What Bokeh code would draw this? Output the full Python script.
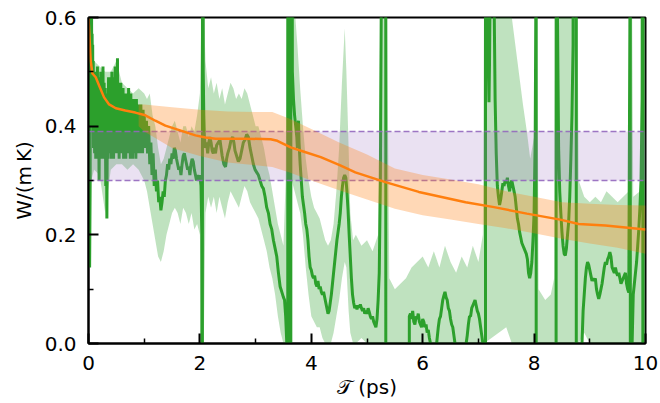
from bokeh.plotting import figure
from bokeh.models import Range1d, FixedTicker
from bokeh.embed import file_html
from bokeh.resources import INLINE

# ---------------- data ----------------
# green: running estimate (with poles, values beyond the axis are clipped)
green_x = [0.000, 0.010, 0.020, 0.030, 0.035, 0.040, 0.045, 0.050, 0.055, 0.060, 0.065, 0.070, 0.075, 0.080, 0.085, 0.090,
           0.10, 0.11, 0.12, 0.13, 0.14, 0.15, 0.16, 0.17, 0.18, 0.19, 0.20, 0.21, 0.22, 0.23, 0.24, 0.25, 0.26, 0.27, 0.28, 0.29,
           0.30, 0.31, 0.32, 0.33, 0.34, 0.35, 0.36, 0.37, 0.38, 0.39, 0.40, 0.41, 0.42, 0.43, 0.44, 0.45, 0.46, 0.47, 0.48, 0.49,
           0.50, 0.51, 0.52, 0.53, 0.54, 0.55, 0.56, 0.57, 0.58, 0.59, 0.60, 0.61, 0.62, 0.63, 0.64, 0.65, 0.66, 0.67, 0.68, 0.69,
           0.70, 0.71, 0.72, 0.73, 0.74, 0.75, 0.76, 0.77, 0.78, 0.79, 0.80, 0.81, 0.82, 0.83, 0.84, 0.85, 0.86, 0.87, 0.88, 0.89,
           0.90, 0.91, 0.92, 0.93, 0.94, 0.95, 0.96, 0.97, 0.98, 0.99, 1.00,
           1.02, 1.04, 1.06, 1.08, 1.10, 1.12, 1.14, 1.16, 1.18, 1.20, 1.22, 1.24, 1.26, 1.28, 1.30, 1.32, 1.34, 1.36, 1.38, 1.40,
           1.42, 1.44, 1.46, 1.48, 1.50, 1.52, 1.54, 1.56, 1.58, 1.60, 1.62, 1.64, 1.66, 1.68, 1.70, 1.72, 1.74, 1.76, 1.78, 1.80,
           1.82, 1.84, 1.86, 1.88, 1.90, 1.92, 1.94, 1.96, 1.98, 2.00, 2.02, 2.035, 2.04, 2.05, 2.06, 2.07,
           2.08, 2.10, 2.12, 2.14, 2.16, 2.18, 2.20, 2.22, 2.24, 2.26, 2.28, 2.30, 2.33, 2.36, 2.38, 2.40, 2.43, 2.46, 2.48, 2.50,
           2.53, 2.56, 2.59, 2.61, 2.63, 2.66, 2.69, 2.72, 2.75, 2.78, 2.81, 2.84, 2.87, 2.90, 2.93, 2.96, 2.99, 3.02, 3.05, 3.08,
           3.11, 3.14, 3.17, 3.20, 3.23, 3.26, 3.29, 3.32, 3.35, 3.38, 3.41, 3.44, 3.47, 3.50, 3.52, 3.54, 3.56, 3.575, 3.58, 3.62,
           3.625, 3.63, 3.635, 3.66, 3.68, 3.70, 3.72, 3.74, 3.75, 3.76, 3.77, 3.78, 3.80, 3.82, 3.84, 3.86, 3.88, 3.90, 3.92, 3.94,
           3.96, 3.98, 4.00, 4.02, 4.04, 4.06, 4.08, 4.10, 4.12, 4.14, 4.16, 4.18, 4.20, 4.22, 4.24, 4.26, 4.28, 4.30, 4.32, 4.34,
           4.36, 4.38, 4.40, 4.42, 4.44, 4.46, 4.48, 4.50, 4.52, 4.54, 4.56, 4.58, 4.60, 4.62, 4.64, 4.66, 4.68, 4.70, 4.72, 4.74,
           4.76, 4.78, 4.80, 4.82, 4.84, 4.86, 4.88, 4.90, 4.92, 4.94, 4.96, 4.98, 5.00, 5.02, 5.04, 5.06, 5.08, 5.10, 5.12, 5.14,
           5.16, 5.18, 5.20, 5.22, 5.24, 5.255, 5.26, 5.335, 5.34, 5.755, 5.76, 5.78, 5.80, 5.82, 5.84, 5.86, 5.88, 5.90, 5.92, 5.94,
           5.96, 5.98, 6.00, 6.02, 6.04, 6.06, 6.08, 6.10, 6.12, 6.14, 6.16, 6.22, 6.25, 6.28, 6.30, 6.32, 6.34, 6.36, 6.38, 6.40,
           6.42, 6.44, 6.46, 6.48, 6.50, 6.52, 6.54, 6.56, 6.58, 6.60, 6.76, 6.78, 6.80, 6.82, 6.84, 6.86, 6.88, 6.90, 6.92, 6.94,
           6.96, 6.98, 7.00, 7.02, 7.04, 7.06, 7.08, 7.10, 7.125, 7.13, 7.16, 7.17, 7.18, 7.19, 7.20, 7.21, 7.22, 7.27, 7.28, 7.30,
           7.32, 7.34, 7.36, 7.38, 7.40, 7.42, 7.44, 7.46, 7.48, 7.50, 7.52, 7.54, 7.56, 7.58, 7.60, 7.62, 7.64, 7.66, 7.68, 7.70,
           7.72, 7.74, 7.76, 7.78, 7.80, 7.82, 7.84, 7.86, 7.88, 7.90, 7.92, 7.94, 7.96, 7.98, 8.00, 8.02, 8.03, 8.035, 8.04, 8.39,
           8.40, 8.415, 8.42, 8.44, 8.46, 8.48, 8.50, 8.52, 8.54, 8.56, 8.58, 8.60, 8.62, 8.64, 8.66, 8.68, 8.70, 8.71, 8.755, 8.76,
           8.85, 8.86, 8.88, 8.90, 8.92, 8.94, 8.96, 8.98, 9.00, 9.02, 9.04, 9.06, 9.08, 9.10, 9.12, 9.14, 9.16, 9.18, 9.20, 9.22,
           9.24, 9.26, 9.28, 9.30, 9.32, 9.34, 9.36, 9.38, 9.40, 9.42, 9.44, 9.46, 9.48, 9.50, 9.52, 9.54, 9.56, 9.58, 9.60, 9.62,
           9.64, 9.66, 9.68, 9.70, 9.72, 9.725, 9.73, 9.76, 9.78, 9.80, 9.82, 9.84, 9.86, 9.88, 9.90, 9.92, 9.94, 9.95, 9.955, 10.0]
green_y = [0.62, 0.35, 0.14, 0.30, 0.58, 0.45, 0.62, 0.50, 0.61, 0.42, 0.57, 0.46, 0.55, 0.40, 0.52, 0.36,
           0.48, 0.35, 0.50, 0.34, 0.49, 0.36, 0.51, 0.34, 0.49, 0.30, 0.48, 0.35, 0.50, 0.34, 0.49, 0.36, 0.51, 0.34, 0.48, 0.35,
           0.47, 0.29, 0.46, 0.23, 0.45, 0.34, 0.49, 0.35, 0.49, 0.36, 0.48, 0.34, 0.50, 0.35, 0.48, 0.34, 0.49, 0.36, 0.51, 0.35,
           0.49, 0.36, 0.525, 0.35, 0.48, 0.34, 0.47, 0.36, 0.48, 0.35, 0.47, 0.36, 0.47, 0.34, 0.46, 0.36, 0.46, 0.34, 0.46, 0.35,
           0.46, 0.35, 0.47, 0.36, 0.45, 0.34, 0.46, 0.35, 0.45, 0.34, 0.45, 0.35, 0.45, 0.36, 0.44, 0.34, 0.45, 0.35, 0.44, 0.35,
           0.44, 0.36, 0.44, 0.35, 0.44, 0.36, 0.43, 0.35, 0.43, 0.37, 0.42,
           0.36, 0.41, 0.35, 0.40, 0.33, 0.37, 0.31, 0.35, 0.29, 0.32, 0.28, 0.30, 0.26, 0.27, 0.245, 0.26, 0.28, 0.27, 0.30, 0.31,
           0.33, 0.32, 0.34, 0.33, 0.35, 0.34, 0.36, 0.355, 0.34, 0.33, 0.32, 0.325, 0.31, 0.33, 0.345, 0.35, 0.34, 0.33, 0.32, 0.325,
           0.31, 0.33, 0.34, 0.335, 0.32, 0.31, 0.30, 0.31, 0.30, 0.31, 0.29, 0.20, -3.0, 3.0, 0.50, 0.42,
           0.38, 0.36, 0.37, 0.35, 0.37, 0.38, 0.37, 0.355, 0.35, 0.36, 0.35, 0.365, 0.37, 0.375, 0.36, 0.345, 0.33, 0.325, 0.34, 0.35,
           0.36, 0.375, 0.38, 0.37, 0.355, 0.345, 0.335, 0.34, 0.355, 0.37, 0.375, 0.385, 0.38, 0.36, 0.345, 0.33, 0.32, 0.315, 0.31, 0.30,
           0.29, 0.285, 0.27, 0.25, 0.24, 0.22, 0.21, 0.19, 0.175, 0.16, 0.13, 0.105, 0.095, 0.085, 0.08, 0.05, 0.0, -3.0, 3.0, 3.0,
           -3.0, -3.0, 3.0, 0.50, 0.45, 0.42, 0.40, 0.38, 0.36, 0.40, 0.41, 0.37, 0.33, 0.30, 0.27, 0.255, 0.24, 0.22, 0.21, 0.19,
           0.16, 0.14, 0.135, 0.125, 0.12, 0.125, 0.11, 0.105, 0.115, 0.10, 0.105, 0.095, 0.09, 0.095, 0.085, 0.075, 0.065, 0.055, 0.06, 0.075,
           0.09, 0.11, 0.13, 0.15, 0.17, 0.19, 0.205, 0.22, 0.24, 0.27, 0.29, 0.305, 0.31, 0.305, 0.28, 0.245, 0.20, 0.16, 0.12, 0.09,
           0.075, 0.065, 0.07, 0.063, 0.07, 0.066, 0.072, 0.065, 0.06, 0.065, 0.055, 0.06, 0.055, 0.065, 0.058, 0.05, 0.045, 0.05, 0.04, 0.035,
           0.03, 0.045, 0.08, 0.13, 0.30, 0.60, 3.0, 3.0, -3.0, -3.0, 0.05, 0.055, 0.045, 0.06, 0.04, 0.035, 0.05, 0.045, 0.055, 0.04,
           0.035, 0.03, 0.045, 0.04, 0.03, 0.035, 0.02, 0.025, 0.01, 0.0, -0.03, -0.03, 0.0, 0.03, 0.045, 0.05, 0.065, 0.08, 0.088, 0.095,
           0.085, 0.08, 0.065, 0.06, 0.045, 0.035, 0.03, 0.015, 0.0, -0.03, -0.03, 0.0, 0.015, 0.035, 0.05, 0.05, 0.065, 0.07, 0.075, 0.08,
           0.07, 0.06, 0.055, 0.045, 0.03, 0.015, 0.0, -0.05, -3.0, 3.0, 3.0, 0.60, 0.50, 0.444, 0.52, 0.65, 3.0, 3.0, 0.65, 0.45,
           0.35, 0.29, 0.27, 0.255, 0.265, 0.28, 0.295, 0.29, 0.30, 0.295, 0.305, 0.29, 0.28, 0.295, 0.30, 0.29, 0.28, 0.27, 0.25, 0.23,
           0.22, 0.205, 0.195, 0.185, 0.18, 0.175, 0.17, 0.165, 0.155, 0.13, 0.12, 0.13, 0.15, 0.19, 0.24, 0.38, 0.60, 3.0, -3.0, -3.0,
           3.0, 3.0, 0.60, 0.36, 0.28, 0.24, 0.205, 0.18, 0.165, 0.162, 0.175, 0.20, 0.223, 0.27, 0.34, 0.42, 0.55, 3.0, 3.0, -3.0,
           -3.0, 0.0, 0.06, 0.09, 0.12, 0.14, 0.15, 0.145, 0.135, 0.125, 0.115, 0.12, 0.115, 0.12, 0.10, 0.09, 0.082, 0.09, 0.10, 0.11,
           0.125, 0.14, 0.15, 0.145, 0.155, 0.16, 0.168, 0.16, 0.14, 0.135, 0.13, 0.14, 0.13, 0.125, 0.13, 0.12, 0.11, 0.115, 0.12, 0.125,
           0.13, 0.11, 0.10, 0.094, 0.60, 3.0, -3.0, 0.0, 0.09, 0.11, 0.13, 0.15, 0.18, 0.21, 0.25, 0.30, 0.45, 3.0, -3.0, -3.0]

# green uncertainty band
gband_x = [0.00, 0.05, 0.10, 0.20, 0.30, 0.40, 0.50, 0.60, 0.70, 0.80, 0.90, 1.00, 1.05, 1.10, 1.15, 1.20, 1.25, 1.30, 1.35, 1.40,
           1.45, 1.50, 1.55, 1.60, 1.65, 1.70, 1.75, 1.80, 1.85, 1.90, 1.95, 2.00, 2.03, 2.07, 2.10, 2.15, 2.20, 2.25, 2.30, 2.35,
           2.40, 2.45, 2.50, 2.55, 2.60, 2.65, 2.70, 2.75, 2.80, 2.85, 2.90, 2.95, 3.00, 3.05, 3.10, 3.15, 3.20, 3.25, 3.30, 3.35,
           3.40, 3.45, 3.50, 3.54, 3.56, 3.60, 3.65, 3.70, 3.75, 3.80, 3.85, 3.90, 3.95, 4.00, 4.05, 4.10, 4.15, 4.20, 4.25, 4.30,
           4.35, 4.40, 4.45, 4.50, 4.55, 4.60, 4.63, 4.67, 4.70, 4.75, 4.80, 4.90, 5.00, 5.10, 5.20, 5.24, 5.36, 5.40, 5.50, 5.60,
           5.70, 5.80, 5.90, 6.00, 6.10, 6.20, 6.30, 6.40, 6.50, 6.60, 6.70, 6.80, 6.90, 7.00, 7.08, 7.10, 7.50, 7.60, 7.70, 7.75,
           7.80, 7.87, 7.93, 8.00, 8.03, 8.06, 8.08, 8.20, 8.30, 8.36, 8.38, 8.78, 8.80, 8.90, 9.00, 9.10, 9.20, 9.30, 9.40, 9.50,
           9.60, 9.70, 9.72, 9.76, 9.78, 9.90, 9.93, 10.0]
gband_lo = [0.12, 0.30, 0.32, 0.31, 0.24, 0.32, 0.33, 0.33, 0.32, 0.33, 0.32, 0.30, 0.28, 0.25, 0.22, 0.19, 0.16, 0.15, 0.17, 0.20,
            0.22, 0.24, 0.25, 0.24, 0.22, 0.25, 0.24, 0.22, 0.24, 0.21, 0.22, 0.20, 0.0, 0.0, 0.24, 0.27, 0.25, 0.27, 0.24, 0.27,
            0.25, 0.23, 0.26, 0.28, 0.27, 0.26, 0.25, 0.27, 0.29, 0.28, 0.26, 0.25, 0.24, 0.23, 0.21, 0.19, 0.17, 0.14, 0.12, 0.09,
            0.05, 0.02, 0.0, 0.0, 0.0, 0.0, 0.30, 0.28, 0.26, 0.24, 0.20, 0.14, 0.09, 0.05, 0.04, 0.03, 0.03, 0.01, 0.0, 0.0,
            0.0, 0.02, 0.05, 0.08, 0.12, 0.15, 0.14, 0.06, 0.02, 0.0, 0.0, 0.01, 0.0, 0.0, 0.0, 0.0, 0.0, 0.0, 0.0, 0.0,
            0.0, 0.0, 0.0, 0.0, 0.0, 0.0, 0.0, 0.0, 0.0, 0.0, 0.0, 0.0, 0.0, 0.0, 0.0, 0.0, 0.03, 0.0, 0.0, 0.0,
            0.0, 0.0, 0.0, 0.0, 0.0, 0.0, 0.0, 0.0, 0.0, 0.0, 0.0, 0.0, 0.0, 0.02, 0.0, 0.0, 0.0, 0.0, 0.0, 0.0,
            0.0, 0.0, 0.0, 0.0, 0.0, 0.0, 0.0, 0.0]
gband_hi = [0.62, 0.62, 0.52, 0.51, 0.50, 0.50, 0.52, 0.48, 0.47, 0.46, 0.47, 0.46, 0.45, 0.46, 0.42, 0.40, 0.36, 0.33, 0.34, 0.36,
            0.38, 0.40, 0.41, 0.39, 0.37, 0.40, 0.40, 0.38, 0.40, 0.39, 0.42, 0.46, 0.62, 0.62, 0.52, 0.47, 0.49, 0.46, 0.48, 0.45,
            0.47, 0.44, 0.46, 0.48, 0.47, 0.45, 0.46, 0.45, 0.47, 0.46, 0.44, 0.42, 0.40, 0.40, 0.38, 0.36, 0.33, 0.31, 0.28, 0.25,
            0.22, 0.20, 0.18, 0.30, 0.62, 0.62, 0.62, 0.62, 0.55, 0.47, 0.40, 0.34, 0.30, 0.27, 0.25, 0.24, 0.23, 0.21, 0.19, 0.18,
            0.19, 0.22, 0.28, 0.36, 0.48, 0.58, 0.50, 0.36, 0.24, 0.19, 0.20, 0.18, 0.19, 0.17, 0.20, 0.62, 0.62, 0.12, 0.10, 0.11,
            0.12, 0.14, 0.15, 0.16, 0.14, 0.17, 0.14, 0.18, 0.15, 0.13, 0.16, 0.14, 0.18, 0.15, 0.20, 0.62, 0.62, 0.60, 0.52, 0.48,
            0.44, 0.39, 0.34, 0.38, 0.62, 0.62, 0.10, 0.08, 0.09, 0.12, 0.62, 0.62, 0.30, 0.27, 0.26, 0.27, 0.26, 0.28, 0.27, 0.26,
            0.27, 0.28, 0.62, 0.62, 0.27, 0.28, 0.62, 0.62]

# orange: mean estimate and its band
orange_x = [0.00, 0.04, 0.07, 0.13, 0.19, 0.28, 0.37, 0.49, 0.66, 0.84, 1.02, 1.20, 1.38, 1.56, 1.74, 1.92, 2.10, 2.28,
            2.79, 3.27, 3.39, 3.63, 3.87, 4.17, 4.52, 4.79, 5.33, 5.93, 6.77, 7.28, 7.87, 8.47, 8.80, 9.28, 10.0]
orange_y = [0.60, 0.52, 0.497, 0.49, 0.475, 0.453, 0.44, 0.433, 0.429, 0.425, 0.42, 0.41, 0.401, 0.395, 0.389, 0.383, 0.379, 0.377,
            0.377, 0.376, 0.373, 0.361, 0.353, 0.343, 0.328, 0.315, 0.297, 0.279, 0.26, 0.251, 0.239, 0.228, 0.22, 0.217, 0.21]
oband_x = [0.90, 1.00, 1.50, 2.00, 2.50, 3.00, 3.30, 3.60, 4.00, 4.50, 5.00, 5.50, 6.00, 6.50, 7.00, 7.50, 8.00, 8.50, 9.00, 9.50, 10.0]
oband_lo = [0.40, 0.39, 0.36, 0.345, 0.333, 0.328, 0.325, 0.315, 0.30, 0.282, 0.265, 0.248, 0.236, 0.228, 0.22, 0.212, 0.203, 0.193, 0.184, 0.176, 0.165]
oband_hi = [0.44, 0.44, 0.435, 0.43, 0.427, 0.426, 0.426, 0.414, 0.395, 0.37, 0.348, 0.322, 0.31, 0.302, 0.293, 0.28, 0.27, 0.26, 0.257, 0.255, 0.254]

# purple: reference range
ref_x = [0.0, 10.0]
ref_lo = [0.30, 0.30]
ref_hi = [0.39, 0.39]

x_ticks = [0, 2, 4, 6, 8, 10]
x_minor = [1, 3, 5, 7, 9]
y_ticks = [0.0, 0.2, 0.4, 0.6]
y_minor = [0.1, 0.3, 0.5]

GREEN = "#2ca02c"
ORANGE = "#ff7f0e"
PURPLE = "#9467bd"
FONT = "DejaVu Sans"

p = figure(width=660, height=403, output_backend="svg", toolbar_location=None,
           x_range=Range1d(0, 10), y_range=Range1d(0, 0.6),
           min_border_left=88, min_border_right=15, min_border_top=17, min_border_bottom=60)

p.varea(x=gband_x, y1=gband_lo, y2=gband_hi, fill_color=GREEN, fill_alpha=0.3)
p.line(green_x, green_y, line_color=GREEN, line_width=3)
p.varea(x=ref_x, y1=ref_lo, y2=ref_hi, fill_color=PURPLE, fill_alpha=0.2)
p.line(ref_x, ref_lo, line_color=PURPLE, line_width=1.5, line_dash="6 3", line_alpha=0.9)
p.line(ref_x, ref_hi, line_color=PURPLE, line_width=1.5, line_dash="6 3", line_alpha=0.9)
p.varea(x=oband_x, y1=oband_lo, y2=oband_hi, fill_color=ORANGE, fill_alpha=0.3)
p.line(orange_x, orange_y, line_color=ORANGE, line_width=2.5)

p.grid.visible = False
p.outline_line_color = "black"
p.outline_line_width = 2
p.outline_line_alpha = 1.0
p.background_fill_color = "white"
p.border_fill_color = "white"

for ax in (p.xaxis[0], p.yaxis[0]):
    ax.axis_line_width = 2
    ax.axis_line_color = "black"
    ax.major_tick_in = 10
    ax.major_tick_out = 0
    ax.minor_tick_in = 5
    ax.minor_tick_out = 0
    ax.major_tick_line_width = 2
    ax.minor_tick_line_width = 1.5
    ax.major_label_text_font = FONT
    ax.major_label_text_font_size = "20px"
    ax.major_label_text_color = "black"
    ax.axis_label_text_font = FONT
    ax.axis_label_text_font_size = "20px"
    ax.axis_label_text_font_style = "normal"
    ax.axis_label_text_color = "black"

p.xaxis[0].ticker = FixedTicker(ticks=x_ticks, minor_ticks=x_minor)
p.yaxis[0].ticker = FixedTicker(ticks=y_ticks, minor_ticks=y_minor)
p.yaxis[0].major_label_overrides = {0.0: "0.0", 0.2: "0.2", 0.4: "0.4", 0.6: "0.6"}
p.xaxis[0].axis_label = "\U0001D4AF (ps)"
p.yaxis[0].axis_label = "W/(m\u2009K)"
p.xaxis[0].major_label_standoff = 12
p.xaxis[0].axis_label_standoff = 2
p.yaxis[0].major_label_standoff = 12
p.yaxis[0].axis_label_standoff = 6

open("out.html", "w").write(file_html(p, INLINE))
